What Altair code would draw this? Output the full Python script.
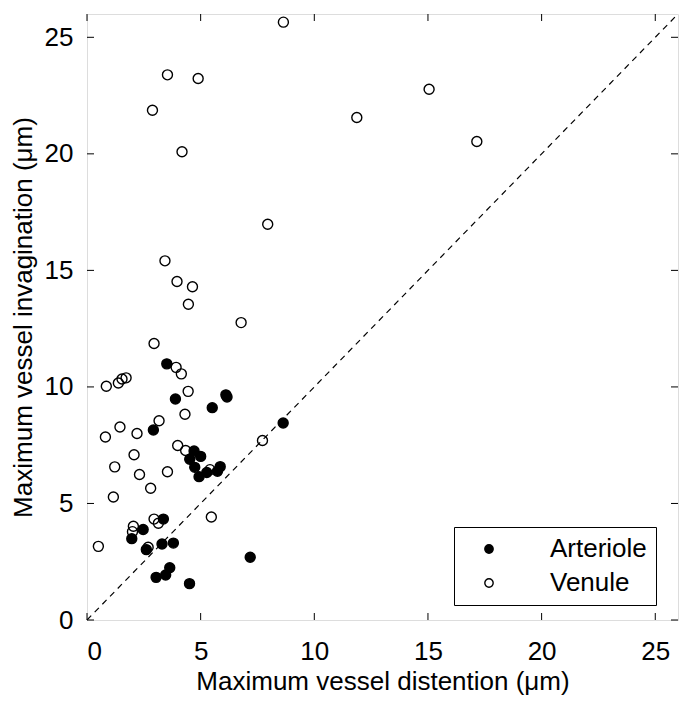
import altair as alt
import pandas as pd

# Arteriole (filled) points
art_x = [3.51, 3.89, 6.11, 6.16, 5.51, 2.92, 8.63, 4.71, 5.00, 4.52, 4.74, 4.93, 5.27, 5.74, 5.86,
         3.36, 2.47, 1.97, 2.61, 3.30, 3.80, 3.04, 3.46, 3.64, 4.51, 7.18]
art_y = [10.99, 9.48, 9.66, 9.57, 9.11, 8.15, 8.45, 7.25, 7.02, 6.90, 6.55, 6.15, 6.33, 6.38, 6.58,
         4.33, 3.88, 3.49, 3.02, 3.26, 3.30, 1.83, 1.93, 2.24, 1.56, 2.69]

# Venule (open) points
ven_x = [8.64, 3.54, 4.89, 2.88, 11.87, 15.05, 17.15, 4.18, 7.95, 3.43, 3.96, 4.64, 4.46, 6.78,
         2.95, 3.92, 4.15, 0.85, 1.38, 1.54, 1.72, 4.45, 4.31, 3.17, 1.45, 2.20, 0.81, 3.99, 4.34,
         2.07, 1.22, 2.31, 3.54, 2.80, 1.16, 7.72, 5.47, 2.95, 3.14, 2.04, 2.00, 0.50, 2.69, 5.41]
ven_y = [25.65, 23.39, 23.23, 21.87, 21.56, 22.77, 20.53, 20.09, 16.98, 15.41, 14.52, 14.30, 13.55, 12.76,
         11.86, 10.84, 10.56, 10.03, 10.17, 10.34, 10.39, 9.81, 8.83, 8.55, 8.28, 8.00, 7.85, 7.49, 7.27,
         7.09, 6.57, 6.24, 6.36, 5.65, 5.28, 7.70, 4.42, 4.33, 4.15, 4.02, 3.79, 3.16, 3.12, 6.45]

groups = ["Arteriole", "Venule"]
diag = [0, 26]
tick_vals = [0, 5, 10, 15, 20, 25]

W, H = 591, 606
FONT = "Liberation Sans"
FS = 26

df = pd.DataFrame({
    "x": art_x + ven_x,
    "y": art_y + ven_y,
    "type": [groups[0]] * len(art_x) + [groups[1]] * len(ven_x),
})
diag_df = pd.DataFrame({"x": diag, "y": diag})
tick_df = pd.DataFrame({"t": tick_vals})

xs = alt.Scale(domain=[0, 26], nice=False, zero=False)
ys = alt.Scale(domain=[0, 26], nice=False, zero=False)

x_axis = alt.Axis(values=tick_vals, ticks=False, tickSize=0, domain=False, grid=False,
                  labelFont=FONT, labelFontSize=FS, labelColor="black", labelPadding=18,
                  title="Maximum vessel distention (\u03bcm)", titleFont=FONT, titleFontSize=FS,
                  titleFontWeight="normal", titleColor="black", titlePadding=4)
y_axis = alt.Axis(values=tick_vals, ticks=False, tickSize=0, domain=False, grid=False,
                  labelFont=FONT, labelFontSize=FS, labelColor="black", labelPadding=14,
                  title="Maximum vessel invagination (\u03bcm)", titleFont=FONT, titleFontSize=FS,
                  titleFontWeight="normal", titleColor="black", titlePadding=8)

line = alt.Chart(diag_df).mark_line(color="black", strokeWidth=1.2, strokeDash=[6, 5]).encode(
    x=alt.X("x:Q", scale=xs, axis=x_axis),
    y=alt.Y("y:Q", scale=ys, axis=y_axis),
)

points = alt.Chart(df).mark_point(shape="circle", filled=True, stroke="black", strokeWidth=1.4,
                                  size=100, opacity=1, fillOpacity=1).encode(
    x=alt.X("x:Q", scale=xs),
    y=alt.Y("y:Q", scale=ys),
    fill=alt.Fill("type:N", scale=alt.Scale(domain=groups, range=["black", "transparent"]),
                  legend=alt.Legend(title=None, orient="none", legendX=367, legendY=513,
                                    strokeColor="black", fillColor="white", padding=9,
                                    labelFont=FONT, labelFontSize=FS, labelColor="black",
                                    labelOffset=48, symbolOffset=13, symbolSize=70,
                                    symbolStrokeColor="black", symbolStrokeWidth=1.4,
                                    symbolType="circle", rowPadding=8)),
    order=alt.Order("type:N", sort="ascending"),
)

tk_len = 7
bottom_t = alt.Chart(tick_df).mark_rule(color="black", strokeWidth=1).encode(
    x=alt.X("t:Q", scale=xs), y=alt.value(H), y2=alt.value(H - tk_len))
top_t = alt.Chart(tick_df).mark_rule(color="black", strokeWidth=1).encode(
    x=alt.X("t:Q", scale=xs), y=alt.value(0), y2=alt.value(tk_len))
left_t = alt.Chart(tick_df).mark_rule(color="black", strokeWidth=1).encode(
    y=alt.Y("t:Q", scale=ys), x=alt.value(0), x2=alt.value(tk_len))
right_t = alt.Chart(tick_df).mark_rule(color="black", strokeWidth=1).encode(
    y=alt.Y("t:Q", scale=ys), x=alt.value(W), x2=alt.value(W - tk_len))

chart = alt.layer(line, bottom_t, top_t, left_t, right_t, points).properties(
    width=W, height=H,
    autosize=alt.AutoSizeParams(type="none"),
    padding={"left": 79, "top": 6, "right": 4, "bottom": 78},
).configure_view(stroke="black", strokeWidth=1).configure(background="white")

chart.save("out.html", embed_options={"renderer": "svg", "actions": False})
